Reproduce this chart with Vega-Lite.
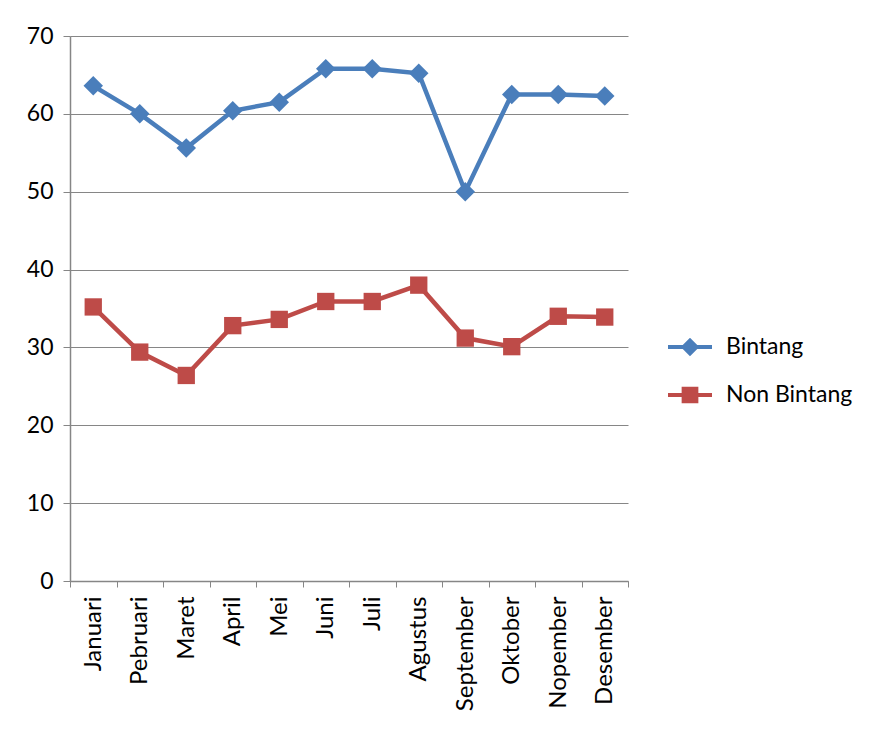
{
  "$schema": "https://vega.github.io/schema/vega-lite/v6.json",
  "width": 558,
  "height": 545,
  "autosize": {"type": "none"},
  "padding": {"left": 70, "top": 36, "right": 253, "bottom": 148},
  "background": "white",
  "config": {
    "view": {"stroke": null},
    "font": "Lato",
    "axis": {"labelFont": "Lato", "labelColor": "#000000", "domainColor": "#868686", "tickColor": "#868686", "gridColor": "#868686", "gridOpacity": 1}
  },
  "data": {
    "values": [
      {"bulan": "Januari", "seri": "Bintang", "nilai": 63.6},
      {"bulan": "Pebruari", "seri": "Bintang", "nilai": 60.0},
      {"bulan": "Maret", "seri": "Bintang", "nilai": 55.6},
      {"bulan": "April", "seri": "Bintang", "nilai": 60.4},
      {"bulan": "Mei", "seri": "Bintang", "nilai": 61.5},
      {"bulan": "Juni", "seri": "Bintang", "nilai": 65.8},
      {"bulan": "Juli", "seri": "Bintang", "nilai": 65.8},
      {"bulan": "Agustus", "seri": "Bintang", "nilai": 65.2},
      {"bulan": "September", "seri": "Bintang", "nilai": 50.0},
      {"bulan": "Oktober", "seri": "Bintang", "nilai": 62.5},
      {"bulan": "Nopember", "seri": "Bintang", "nilai": 62.5},
      {"bulan": "Desember", "seri": "Bintang", "nilai": 62.3},
      {"bulan": "Januari", "seri": "Non Bintang", "nilai": 35.2},
      {"bulan": "Pebruari", "seri": "Non Bintang", "nilai": 29.4},
      {"bulan": "Maret", "seri": "Non Bintang", "nilai": 26.4},
      {"bulan": "April", "seri": "Non Bintang", "nilai": 32.8},
      {"bulan": "Mei", "seri": "Non Bintang", "nilai": 33.6},
      {"bulan": "Juni", "seri": "Non Bintang", "nilai": 35.9},
      {"bulan": "Juli", "seri": "Non Bintang", "nilai": 35.9},
      {"bulan": "Agustus", "seri": "Non Bintang", "nilai": 38.0},
      {"bulan": "September", "seri": "Non Bintang", "nilai": 31.2},
      {"bulan": "Oktober", "seri": "Non Bintang", "nilai": 30.1},
      {"bulan": "Nopember", "seri": "Non Bintang", "nilai": 34.0},
      {"bulan": "Desember", "seri": "Non Bintang", "nilai": 33.9}
    ]
  },
  "encoding": {
    "x": {
      "field": "bulan",
      "type": "nominal",
      "sort": ["Januari", "Pebruari", "Maret", "April", "Mei", "Juni", "Juli", "Agustus", "September", "Oktober", "Nopember", "Desember"],
      "scale": {"type": "band", "paddingInner": 0, "paddingOuter": 0},
      "axis": {"title": null, "labelAngle": 270, "labelAlign": "right", "labelBaseline": "middle", "labelFontSize": 24, "labelPadding": 9, "tickSize": 6, "tickBand": "extent", "grid": false, "domainWidth": 1.5}
    },
    "y": {
      "field": "nilai",
      "type": "quantitative",
      "scale": {"domain": [0, 70], "nice": false, "zero": true},
      "axis": {"title": null, "values": [0, 10, 20, 30, 40, 50, 60, 70], "labelFontSize": 23, "labelPadding": 10, "tickSize": 7, "grid": true, "domainWidth": 1.5}
    }
  },
  "layer": [
    {
      "mark": {"type": "line", "strokeWidth": 4.5},
      "encoding": {
        "color": {
          "field": "seri",
          "type": "nominal",
          "scale": {"domain": ["Bintang", "Non Bintang"], "range": ["#4A7EBB", "#BE4B48"]},
          "legend": {
            "title": null,
            "orient": "none",
            "legendX": 598,
            "legendY": 289,
            "padding": 0,
            "symbolSize": 1936,
            "rowPadding": 14,
            "labelFontSize": 23,
            "labelFont": "Lato",
            "labelColor": "#000000",
            "labelOffset": 14,
            "symbolStrokeWidth": 0,
            "encode": {
              "symbols": {
                "update": {
                  "shape": {"signal": "datum.value === 'Bintang' ? 'M-1,-0.09H1V0.09H-1Z M0,-0.42L0.42,0L0,0.42L-0.42,0Z' : 'M-1,-0.09H1V0.09H-1Z M-0.38,-0.38H0.38V0.38H-0.38Z'"},
                  "fill": {"signal": "datum.value === 'Bintang' ? '#4A7EBB' : '#BE4B48'"},
                  "fillOpacity": {"value": 1},
                  "strokeWidth": {"value": 0}
                }
              }
            }
          }
        }
      }
    },
    {
      "transform": [{"filter": "datum.seri === 'Bintang'"}],
      "mark": {"type": "point", "filled": true, "opacity": 1, "shape": "diamond", "size": 380, "color": "#4A7EBB"}
    },
    {
      "transform": [{"filter": "datum.seri === 'Non Bintang'"}],
      "mark": {"type": "point", "filled": true, "opacity": 1, "shape": "square", "size": 300, "color": "#BE4B48"}
    }
  ]
}
